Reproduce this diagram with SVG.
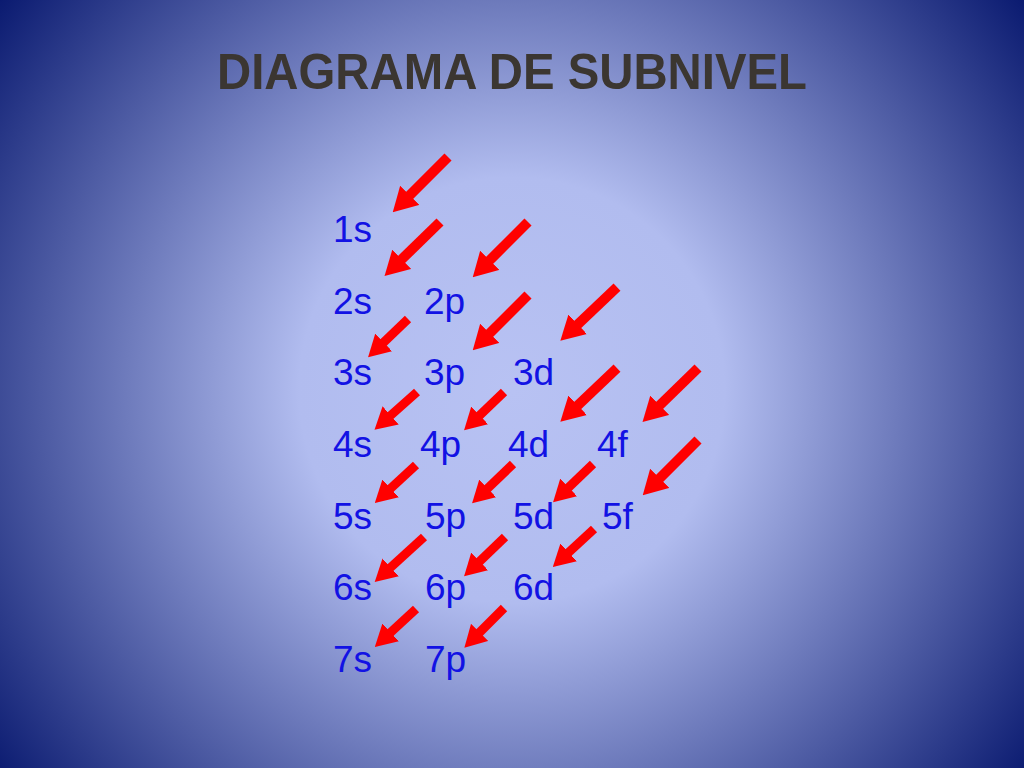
<svg xmlns="http://www.w3.org/2000/svg" width="1024" height="768" viewBox="0 0 1024 768">
<defs>
<radialGradient id="bg" cx="512" cy="390" r="645" gradientUnits="userSpaceOnUse">
<stop offset="0" stop-color="#b8c2f3"/>
<stop offset="0.33" stop-color="#b1bcef"/>
<stop offset="1" stop-color="#0a1a70"/>
</radialGradient>
<marker id="ah" markerWidth="2.4" markerHeight="2.7" refX="0.1" refY="1.35" orient="auto" markerUnits="strokeWidth" viewBox="0 0 2.4 2.7">
<path d="M0,0 L2.4,1.35 L0,2.7 z" fill="#ff0000"/>
</marker>
<style>
.t{font-family:"Liberation Sans",Arial,sans-serif;font-size:37px;fill:#1212e4}
.big{stroke:#ff0000;stroke-width:10;marker-end:url(#ah)}
.sm{stroke:#ff0000;stroke-width:9;marker-end:url(#ah)}
</style>
</defs>
<rect width="1024" height="768" fill="url(#bg)"/>
<text x="512" y="89" text-anchor="middle" font-family="'Liberation Sans',Arial,sans-serif" font-weight="bold" font-size="50" fill="#3b3631" textLength="590" lengthAdjust="spacingAndGlyphs">DIAGRAMA DE SUBNIVEL</text>
<g id="labels">
<g id="n1s"><text class="t" x="333" y="242">1s</text></g>
<g id="n2s"><text class="t" x="333" y="314">2s</text></g>
<g id="n2p"><text class="t" x="424" y="314">2p</text></g>
<g id="n3s"><text class="t" x="333" y="385">3s</text></g>
<g id="n3p"><text class="t" x="424" y="385">3p</text></g>
<g id="n3d"><text class="t" x="513" y="385">3d</text></g>
<g id="n4s"><text class="t" x="333" y="457">4s</text></g>
<g id="n4p"><text class="t" x="420" y="457">4p</text></g>
<g id="n4d"><text class="t" x="508" y="457">4d</text></g>
<g id="n4f"><text class="t" x="597" y="457">4f</text></g>
<g id="n5s"><text class="t" x="333" y="529">5s</text></g>
<g id="n5p"><text class="t" x="425" y="529">5p</text></g>
<g id="n5d"><text class="t" x="513" y="529">5d</text></g>
<g id="n5f"><text class="t" x="602" y="529">5f</text></g>
<g id="n6s"><text class="t" x="333" y="600">6s</text></g>
<g id="n6p"><text class="t" x="425" y="600">6p</text></g>
<g id="n6d"><text class="t" x="513" y="600">6d</text></g>
<g id="n7s"><text class="t" x="333" y="672">7s</text></g>
<g id="n7p"><text class="t" x="425" y="672">7p</text></g>
</g>
<g id="connectors">
<line class="big" x1="448" y1="157" x2="409" y2="196"/>
<line class="big" x1="440" y1="222" x2="401" y2="260"/>
<line class="big" x1="528" y1="222" x2="489" y2="261"/>
<line class="sm" x1="408" y1="319" x2="383" y2="343"/>
<line class="big" x1="528" y1="295" x2="489" y2="334"/>
<line class="big" x1="617" y1="287" x2="577" y2="325"/>
<line class="sm" x1="417" y1="392" x2="390" y2="416"/>
<line class="sm" x1="504" y1="392" x2="479" y2="416"/>
<line class="big" x1="617" y1="368" x2="577" y2="406"/>
<line class="big" x1="698" y1="368" x2="659" y2="406"/>
<line class="sm" x1="416" y1="465" x2="390" y2="489"/>
<line class="sm" x1="513" y1="464" x2="487" y2="489"/>
<line class="sm" x1="593" y1="464" x2="568" y2="488"/>
<line class="big" x1="698" y1="440" x2="659" y2="479"/>
<line class="sm" x1="424" y1="537" x2="390" y2="568"/>
<line class="sm" x1="505" y1="537" x2="479" y2="562"/>
<line class="sm" x1="594" y1="529" x2="568" y2="553"/>
<line class="sm" x1="416" y1="609" x2="390" y2="633"/>
<line class="sm" x1="504" y1="608" x2="479" y2="633"/>
</g>
</svg>
